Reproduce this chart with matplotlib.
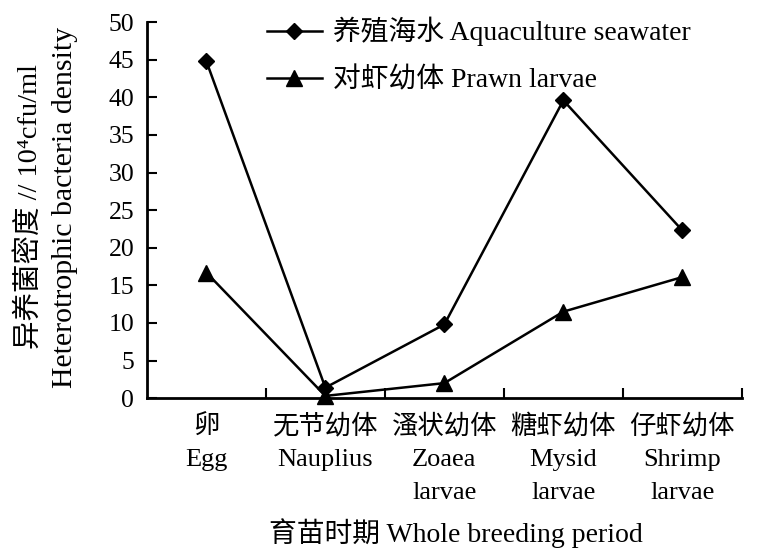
import numpy as np
import matplotlib
matplotlib.use('Agg')
import matplotlib.pyplot as plt

plt.rcParams['font.family'] = ['Liberation Serif', 'Noto Sans CJK SC']

# data
stages = ['卵\nEgg', '无节幼体\nNauplius', '溞状幼体\nZoaea\nlarvae',
          '糖虾幼体\nMysid\nlarvae', '仔虾幼体\nShrimp\nlarvae']
seawater = [44.8, 1.4, 9.8, 39.6, 22.3]
prawn = [16.7, 0.3, 2.0, 11.5, 16.1]

fig = plt.figure(figsize=(7.57, 5.53), dpi=100)
ax = fig.add_axes([0.194, 0.280, 0.786, 0.680])

x = np.arange(len(stages))
ax.plot(x, seawater, color='black', lw=1.8, marker='D', ms=8, clip_on=False,
        label='养殖海水 Aquaculture seawater')
ax.plot(x, prawn, color='black', lw=1.8, marker='^', ms=11, clip_on=False,
        label='对虾幼体 Prawn larvae')

ax.set_xlim(-0.5, 4.5)
ax.set_ylim(0, 50)
ax.set_yticks(np.arange(0, 51, 5))
ax.set_xticks(x)
ax.set_xticklabels(stages, fontsize=19, linespacing=1.65)
ax.set_xticks(np.arange(0.5, 5, 1), minor=True)
ax.tick_params(axis='x', which='major', length=0, pad=11)
ax.tick_params(axis='x', which='minor', direction='in', length=7, width=1.5)
ax.tick_params(axis='y', direction='in', length=7, width=1.5, labelsize=18.5, pad=9)

for s in ['top', 'right']:
    ax.spines[s].set_visible(False)
for s in ['left', 'bottom']:
    ax.spines[s].set_linewidth(2)

# y label, two lines
fig.text(29 / 757, 1 - 207 / 553, '异养菌密度 // 10⁴cfu/ml', rotation=90,
         ha='center', va='center', fontsize=20.5)
fig.text(65 / 757, 1 - 207 / 553, 'Heterotrophic bacteria density', rotation=90,
         ha='center', va='center', fontsize=21.5)
fig.text(456 / 757, 1 - 533 / 553, '育苗时期 Whole breeding period',
         ha='center', va='center', fontsize=20)

ax.legend(loc='center left', bbox_to_anchor=(0.178, 0.912), frameon=False,
          fontsize=20, handlelength=2.0, labelspacing=0.75, handletextpad=0.4,
          borderpad=0)

fig.savefig('out.png', dpi=100)
